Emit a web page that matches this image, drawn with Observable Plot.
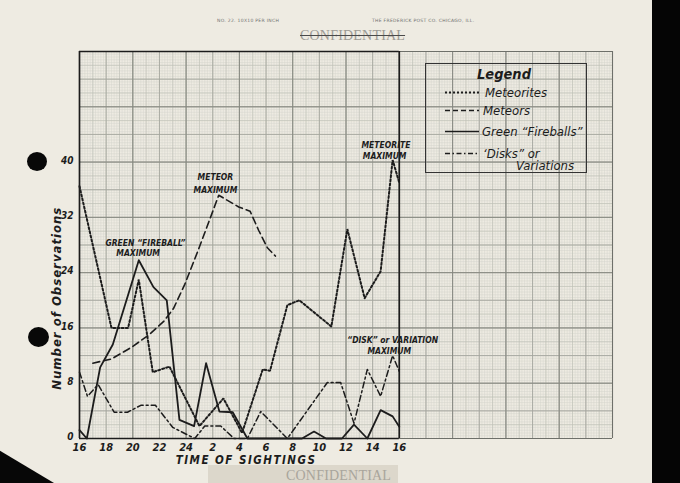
<!DOCTYPE html>
<html><head><meta charset="utf-8">
<script src="https://cdn.jsdelivr.net/npm/d3@7"></script>
<script src="https://cdn.jsdelivr.net/npm/@observablehq/plot@0.6"></script>
<style>
html,body{margin:0;padding:0;background:#000;}
#page{position:relative;width:680px;height:483px;overflow:hidden;background:#eeebe2;}
#chart{position:absolute;left:0;top:0;}
.strip{position:absolute;left:652px;top:0;width:28px;height:483px;background:#050505;}
.hole{position:absolute;background:#080808;border-radius:50%;}
.corner{position:absolute;left:0;top:445px;width:60px;height:38px;background:#070707;clip-path:polygon(0 15%,0 100%,90% 100%);}
.tiny{position:absolute;font:4.5px "DejaVu Sans";color:#707070;letter-spacing:0.3px;white-space:nowrap;}
.conf{position:absolute;font:14px "Liberation Serif";color:#9d9a94;white-space:nowrap;letter-spacing:0.2px;}
.stamp{position:absolute;left:208px;top:465px;width:190px;height:20px;background:#dcd7cb;}
#legend{position:absolute;left:425px;top:63px;width:162px;height:110px;border:1.5px solid #333;box-sizing:border-box;}
#legend svg{overflow:visible;}
</style></head><body>
<div id="page">
  <div class="strip"></div>
  <div class="corner"></div>
  <div class="hole" style="left:27px;top:152px;width:20px;height:19px;"></div>
  <div class="hole" style="left:28px;top:327px;width:21px;height:20px;"></div>
  <div class="tiny" style="left:217px;top:18px;">NO. 22. 10X10 PER INCH</div>
  <div class="tiny" style="left:372px;top:18px;">THE FREDERICK POST CO. CHICAGO, ILL.</div>
  <div class="conf" style="left:300px;top:28px;text-decoration:line-through;text-decoration-color:#4a4a4a;">CONFIDENTIAL</div>
  <div class="stamp"></div>
  <div class="conf" style="left:286px;top:468px;color:#a9a59c;">CONFIDENTIAL</div>
  <div id="chart"></div>
  <div id="legend"></div>
</div>
<script>
// ---- data (hours after 16:00, number of observations) ----
const xTicks = [0, 2, 4, 6, 8, 10, 12, 14, 16, 18, 20, 22, 24];
const xTickLabels = ["16","18","20","22","24","2","4","6","8","10","12","14","16"];
const yTicks = [0, 8, 16, 24, 32, 40];

const meteoritesX = [0, 2.4, 3.65, 4.45, 5.5, 6.75, 9.0, 10.8, 12.2, 13.75, 14.3, 15.6, 16.5, 18.9, 20.1, 21.4, 22.6, 23.5, 24];
const meteoritesY = [36.5, 16, 16, 23, 9.6, 10.4, 1.8, 5.8, 0.8, 10, 9.8, 19.3, 20, 16.2, 30.3, 20.3, 24.2, 40.3, 37];

const meteorsX = [1.0, 2.4, 3.9, 5.15, 6.3, 7.05, 7.9, 8.9, 10.45, 11.95, 12.8, 13.45, 14.1, 14.7];
const meteorsY = [10.9, 11.5, 13.2, 14.9, 16.9, 18.8, 22.3, 27.2, 35.2, 33.5, 32.9, 30.1, 27.6, 26.4];

const fireballsX = [0, 0.55, 1.55, 2.5, 4.45, 5.55, 6.55, 7.5, 8.6, 9.5, 10.5, 11.5, 12.6, 16.7, 17.6, 18.5, 19.7, 20.6, 21.6, 22.6, 23.5, 24];
const fireballsY = [1.2, 0, 10.3, 13.6, 25.8, 21.9, 20, 2.7, 1.8, 10.9, 3.9, 3.8, 0, 0, 1.0, 0, 0, 2.0, 0, 4.1, 3.2, 1.7];

const disksX = [0, 0.6, 1.4, 2.6, 3.6, 4.6, 5.7, 7.0, 8.65, 9.4, 10.6, 11.6, 12.6, 13.6, 15.6, 18.6, 19.6, 20.6, 21.6, 22.6, 23.5, 24];
const disksY = [9.6, 6.1, 7.8, 3.8, 3.8, 4.8, 4.8, 1.6, 0, 1.8, 1.8, 0, 0, 3.9, 0, 8.1, 8.1, 2.2, 10, 6.1, 12, 9.7];

const annoText = ["GREEN \u201CFIREBALL\u201D", "MAXIMUM", "METEOR", "MAXIMUM", "METEORITE", "MAXIMUM", "\u201CDISK\u201D or VARIATION", "MAXIMUM"];
const annoX = [4.95, 4.4, 10.2, 10.2, 23.0, 22.9, 23.5, 23.25];
const annoY = [28.3, 26.8, 37.8, 35.9, 42.5, 40.8, 14.2, 12.65];

const legendLabels = ["Meteorites", "Meteors", "Green \u201CFireballs\u201D", "\u2018Disks\u201D or", "Variations"];

// ---- helpers ----
const pts = (xs, ys) => xs.map((x, i) => ({x, y: ys[i]}));
const hand = {fontFamily: "DejaVu Sans Condensed", fontWeight: "bold", fontStyle: "italic"};
const ink = "#1c1c1c";

const fineX = d3.range(0, 201).map(i => i * 0.2);
const fineY = d3.range(0, 141).map(i => i * 0.4);
const l2X = d3.range(0, 41);
const l2Y = d3.range(0, 29).map(i => i * 2);
const l3X = d3.range(0, 21).map(i => i * 2);
const l3Y = d3.range(0, 15).map(i => i * 4);
const l4X = d3.range(0, 11).map(i => i * 4);
const l4Y = d3.range(0, 8).map(i => i * 8);

const chart = Plot.plot({
  width: 680, height: 483,
  marginLeft: 79, marginRight: 68, marginTop: 51, marginBottom: 45,
  x: {domain: [0, 40], axis: null},
  y: {domain: [0, 56], axis: null},
  style: {background: "transparent", overflow: "visible", color: ink},
  marks: [
    Plot.ruleX(fineX, {stroke: "#d4d5cc", strokeWidth: 0.5}),
    Plot.ruleY(fineY, {stroke: "#d4d5cc", strokeWidth: 0.5}),
    Plot.ruleX(l2X, {stroke: "#bdbfb6", strokeWidth: 0.6}),
    Plot.ruleY(l2Y, {stroke: "#bdbfb6", strokeWidth: 0.6}),
    Plot.ruleX(l3X, {stroke: "#a3a59d", strokeWidth: 0.8}),
    Plot.ruleY(l3Y, {stroke: "#a3a59d", strokeWidth: 0.8}),
    Plot.ruleX(l4X, {stroke: "#85877f", strokeWidth: 0.9}),
    Plot.ruleY(l4Y, {stroke: "#85877f", strokeWidth: 0.9}),
    Plot.ruleX([40], {stroke: "#6e706a", strokeWidth: 1.1}),
    Plot.ruleY([0, 56], {x1: 24, x2: 40, stroke: "#6e706a", strokeWidth: 1.1}),
    // plot box
    Plot.ruleX([0, 24], {stroke: ink, strokeWidth: 1.7}),
    Plot.ruleY([0, 56], {x1: 0, x2: 24, stroke: ink, strokeWidth: 1.7}),
    // series
    Plot.line(pts(meteoritesX, meteoritesY), {x: "x", y: "y", stroke: ink, strokeWidth: 2, strokeDasharray: "2,2.2", strokeLinejoin: "miter"}),
    Plot.line(pts(meteorsX, meteorsY), {x: "x", y: "y", stroke: ink, strokeWidth: 1.6, strokeDasharray: "7,4"}),
    Plot.line(pts(fireballsX, fireballsY), {x: "x", y: "y", stroke: ink, strokeWidth: 1.8}),
    Plot.line(pts(disksX, disksY), {x: "x", y: "y", stroke: ink, strokeWidth: 1.5, strokeDasharray: "6,3,2,3"}),
    // axes
    Plot.axisY({ticks: yTicks, tickSize: 0, tickPadding: 6, dy: -1.5, label: null, fontSize: 10, ...hand}),
    Plot.axisX({ticks: xTicks, tickSize: 0, tickPadding: 5, label: null, fontSize: 11, ...hand,
      tickFormat: d => xTickLabels[xTicks.indexOf(d)]}),
    Plot.text(["TIME OF SIGHTINGS"], {x: 12.5, y: 0, dy: 22, fontSize: 11.5, ...hand, fill: ink}),
    Plot.text(["Number of Observations"], {x: 0, y: 20.3, dx: -23, rotate: -90, fontSize: 13, ...hand, fill: ink}),
    // annotations
    Plot.text(annoText, {x: (d, i) => annoX[i], y: (d, i) => annoY[i], fontSize: 8.5, ...hand, fill: ink})
  ]
});
document.getElementById("chart").appendChild(chart);
d3.select(chart).selectAll("text").each(function() {
  if (this.textContent === "TIME OF SIGHTINGS") this.style.letterSpacing = "1.5px";
  if (this.textContent === "Number of Observations") this.style.letterSpacing = "1px";
});

// ---- legend (HTML overlay) ----
const lg = d3.select("#legend").append("svg").attr("width", 159).attr("height", 107)
  .style("font-family", "DejaVu Sans Condensed").style("font-style", "italic");
lg.append("text").attr("x", 78).attr("y", 15).attr("text-anchor", "middle")
  .attr("font-size", 14.5).attr("font-weight", "bold").attr("fill", ink).text("Legend");
const rows = [
  {y: 28.5, dash: "2,2", w: 1.8, tx: 59},
  {y: 46.5, dash: "5,3", w: 1.5, tx: 57},
  {y: 67.5, dash: null, w: 1.6, tx: 56},
  {y: 89.5, dash: "5,2.5,1.5,2.5", w: 1.4, tx: 57}
];
rows.forEach((r, i) => {
  lg.append("line").attr("x1", 19).attr("x2", 53).attr("y1", r.y).attr("y2", r.y)
    .attr("stroke", ink).attr("stroke-width", r.w).attr("stroke-dasharray", r.dash);
  lg.append("text").attr("x", r.tx).attr("y", r.y + 4.5).attr("font-size", 13)
    .attr("fill", ink).text(legendLabels[i]);
});
lg.append("text").attr("x", 90).attr("y", 105.5).attr("font-size", 13).attr("fill", ink).text(legendLabels[4]);
</script>
</body></html>
